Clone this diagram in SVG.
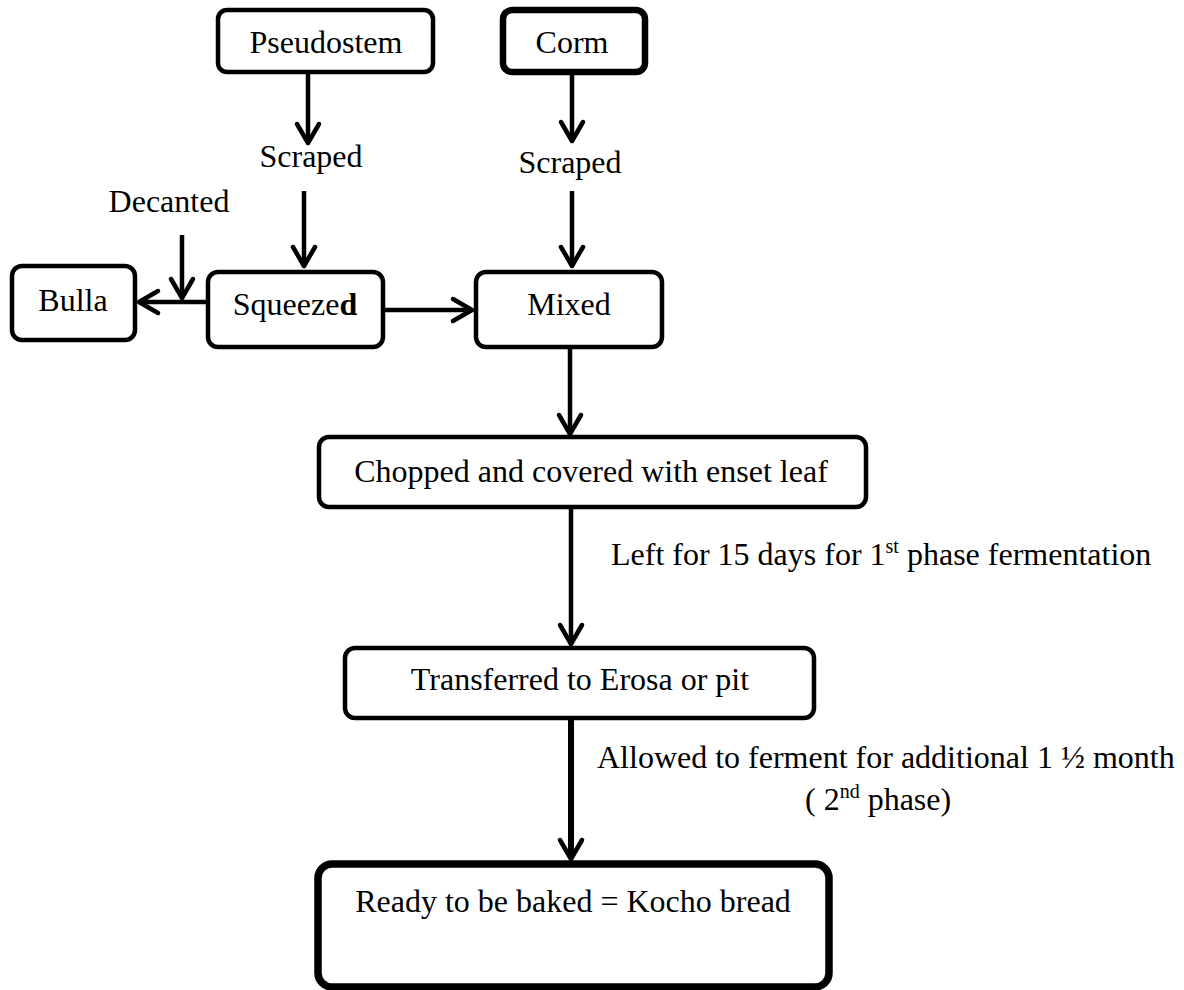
<svg xmlns="http://www.w3.org/2000/svg" width="1184" height="990" viewBox="0 0 1184 990">
<style>
.box{fill:#fff;stroke:#000;stroke-width:4.5}
.t{font-family:"Liberation Serif","Times New Roman",serif;font-size:32px;fill:#000}
.c{text-anchor:middle}
.ln{fill:none;stroke:#000;stroke-width:4.5}
</style>
<defs>
<marker id="ah" markerUnits="userSpaceOnUse" markerWidth="30" markerHeight="30" viewBox="-24 -15 30 30" refX="0" refY="0" orient="auto" overflow="visible">
<path d="M-19,-11 L0,0 L-19,11" fill="none" stroke="#000" stroke-width="4.5" stroke-linejoin="round" stroke-linecap="round"/>
</marker>
</defs>
<rect width="1184" height="990" fill="#fff"/>
<g id="connectors">
<line class="ln" x1="308" y1="72" x2="308" y2="143" marker-end="url(#ah)"/>
<line class="ln" x1="304" y1="191" x2="304" y2="266" marker-end="url(#ah)"/>
<line class="ln" x1="572" y1="72" x2="572" y2="141" marker-end="url(#ah)"/>
<line class="ln" x1="572" y1="191" x2="572" y2="266" marker-end="url(#ah)"/>
<line class="ln" x1="182" y1="235" x2="182" y2="298" marker-end="url(#ah)"/>
<line class="ln" x1="208" y1="302" x2="139" y2="302" marker-end="url(#ah)"/>
<line class="ln" x1="383" y1="310" x2="472" y2="310" marker-end="url(#ah)"/>
<line class="ln" x1="570" y1="347" x2="570" y2="434" marker-end="url(#ah)"/>
<line class="ln" x1="571" y1="507" x2="571" y2="644" marker-end="url(#ah)"/>
<line class="ln" x1="571" y1="718" x2="571" y2="859" style="stroke-width:6" marker-end="url(#ah)"/>
</g>
<g id="pseudostem"><rect class="box" x="218" y="10" width="215" height="62" rx="9"/><text class="t c" x="326" y="53">Pseudostem</text></g>
<g id="corm"><rect class="box" x="503" y="10" width="142" height="62" rx="9" style="stroke-width:6.5"/><text class="t c" x="572" y="53">Corm</text></g>
<g id="scraped1"><text class="t c" x="311" y="167">Scraped</text></g>
<g id="scraped2"><text class="t c" x="570" y="173">Scraped</text></g>
<g id="decanted"><text class="t c" x="169" y="212">Decanted</text></g>
<g id="bulla"><rect class="box" x="12" y="266" width="123" height="74" rx="10"/><text class="t c" x="73" y="311">Bulla</text></g>
<g id="squeezed"><rect class="box" x="208" y="272" width="175" height="75" rx="10"/><text class="t c" x="295" y="315">Squeeze<tspan font-weight="bold">d</tspan></text></g>
<g id="mixed"><rect class="box" x="476" y="272" width="186" height="75" rx="10"/><text class="t c" x="569" y="315">Mixed</text></g>
<g id="chopped"><rect class="box" x="319" y="437" width="547" height="70" rx="10"/><text class="t c" x="591" y="482">Chopped and covered with enset leaf</text></g>
<g id="label1"><text class="t" x="611" y="565">Left for 15 days for 1<tspan font-size="20" dy="-12">st</tspan><tspan dy="12"> phase fermentation</tspan></text></g>
<g id="transferred"><rect class="box" x="345" y="648" width="469" height="70" rx="10"/><text class="t c" x="580" y="690">Transferred to Erosa or pit</text></g>
<g id="label2"><text class="t" x="597" y="768">Allowed to ferment for additional 1 ½ month</text><text class="t" x="805" y="810">( 2<tspan font-size="20" dy="-12">nd</tspan><tspan dy="12"> phase)</tspan></text></g>
<g id="ready"><rect class="box" x="318" y="864" width="511" height="123" rx="14" style="stroke-width:7.5"/><text class="t c" x="573" y="912">Ready to be baked = Kocho bread</text></g>
</svg>
